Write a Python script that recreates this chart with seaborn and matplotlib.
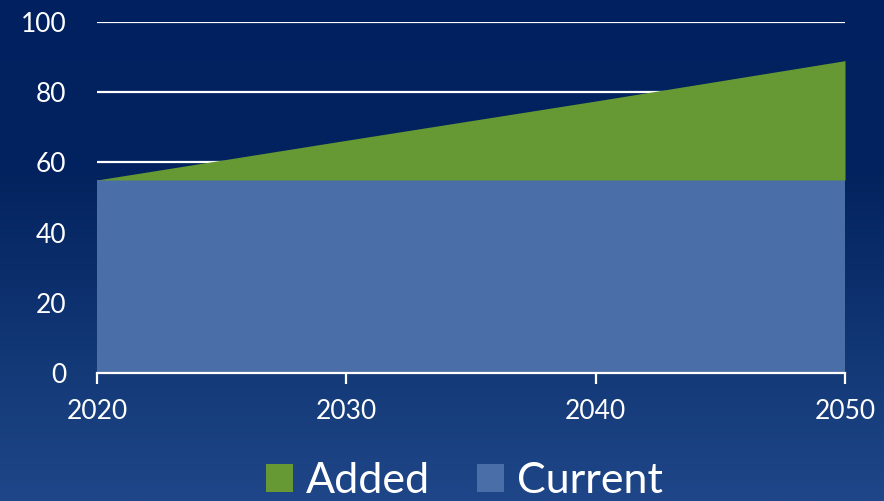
import numpy as np
import matplotlib
matplotlib.use("Agg")
import matplotlib.pyplot as plt
from matplotlib.patches import Patch
from matplotlib.colors import LinearSegmentedColormap
import seaborn as sns

# Capacity outlook: existing level plus new additions
years = [2020, 2030, 2040, 2050]
current = [55, 55, 55, 55]
added = [0, 11.3, 22.5, 34]
series_names = ["Added", "Current"]
y_ticks = [0, 20, 40, 60, 80, 100]

green = "#669933"
blue = "#4a6ea8"

sns.set_theme(style="white")
plt.rcParams["font.family"] = ["Lato", "DejaVu Sans"]

fig = plt.figure(figsize=(8.84, 5.01), dpi=100)

# Vertical background gradient: deep navy at top, lighter blue at bottom
bg = fig.add_axes([0, 0, 1, 1], zorder=0)
bg_cmap = LinearSegmentedColormap.from_list(
    "bg", [(0.0, "#002060"), (0.35, "#03235f"), (0.75, "#143a78"), (1.0, "#1f4688")]
)
grad = np.linspace(0, 1, 256).reshape(-1, 1)
bg.imshow(grad, aspect="auto", cmap=bg_cmap, extent=[0, 1, 0, 1], origin="upper")
bg.set_axis_off()

ax = fig.add_axes([0.1097, 0.2555, 0.8462, 0.7005], zorder=1)
ax.patch.set_alpha(0)

ax.stackplot(years, current, added, colors=[blue, green], linewidth=0, zorder=2)

ax.set_xlim(2020, 2050)
ax.set_ylim(0, 100)
ax.set_yticks(y_ticks)
ax.set_xticks(years)
ax.grid(axis="y", color="white", linewidth=1.6, zorder=1)
ax.grid(axis="x", visible=False)
ax.set_axisbelow(True)

sns.despine(ax=ax, left=True, top=True, right=True, bottom=False)
ax.spines["bottom"].set_color("white")
ax.spines["bottom"].set_linewidth(1.6)
ax.spines["bottom"].set_zorder(3)

ax.tick_params(axis="x", colors="white", labelcolor="white", labelsize=19,
               length=8, width=1.6, direction="out", pad=11, bottom=True)
ax.tick_params(axis="y", colors="white", labelcolor="white", labelsize=19,
               length=0, pad=22)
ax.set_xlabel("")
ax.set_ylabel("")

handles = [Patch(facecolor=green, edgecolor="none"),
           Patch(facecolor=blue, edgecolor="none")]
leg = fig.legend(handles, series_names, loc="lower center", ncol=2,
                 bbox_to_anchor=(0.525, -0.075), frameon=False,
                 fontsize=31, handlelength=0.62, handleheight=0.62,
                 handletextpad=0.3, columnspacing=1.1, labelcolor="white")

fig.savefig("out.png", dpi=100)
